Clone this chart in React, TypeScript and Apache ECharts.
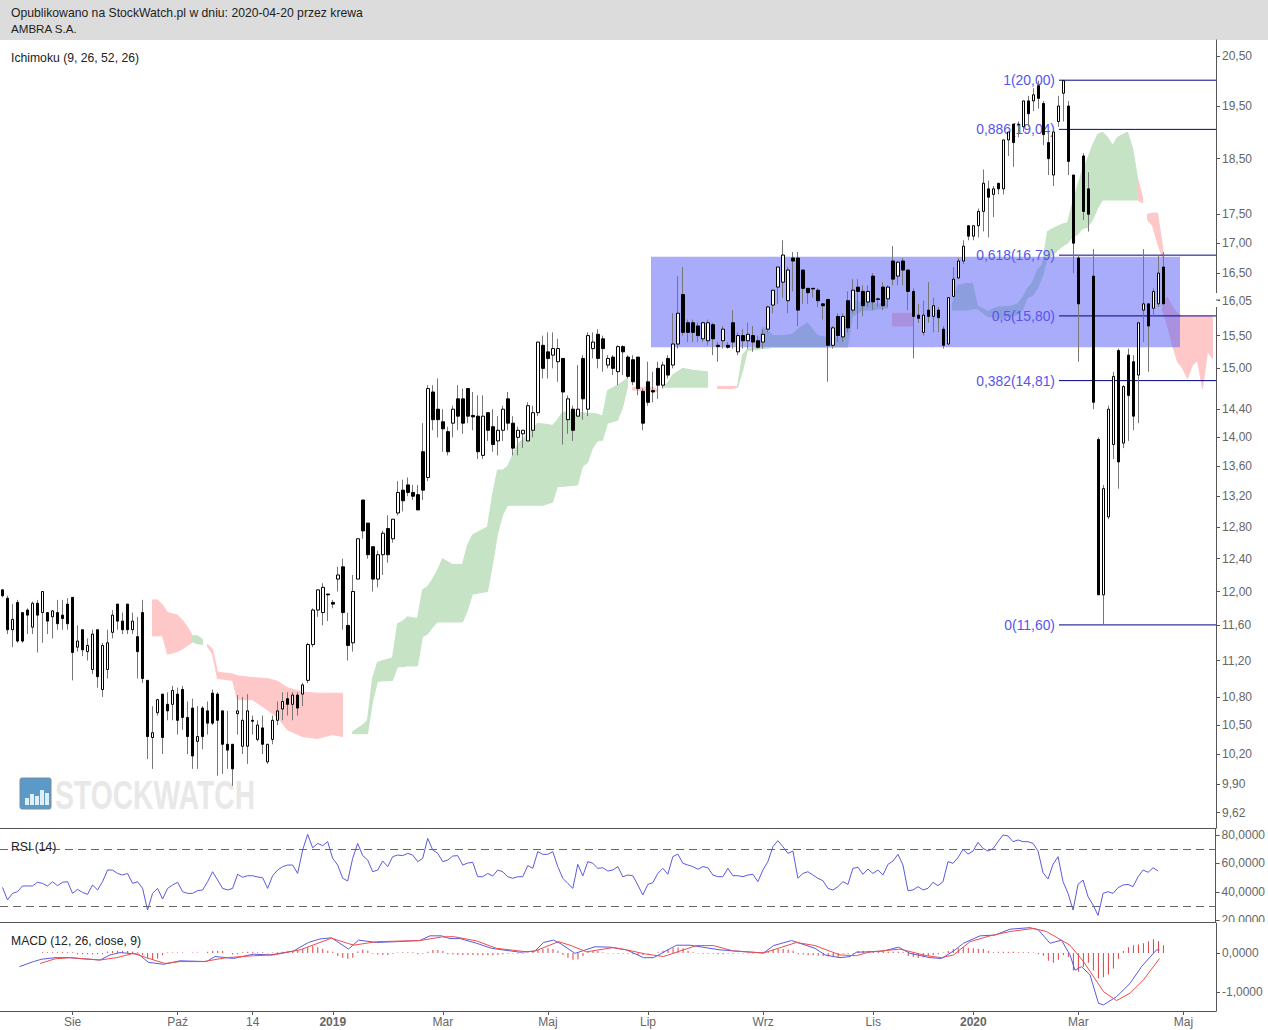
import React, { useEffect, useRef } from "react";
import * as echarts from "echarts";

const FONT = '"Liberation Sans", Arial, sans-serif';
const SLOTS = 243;

// [open, close, low, high]
const candles: number[][] = [
[12.02,11.95,11.93,12.03],[11.92,11.55,11.5,11.95],[11.55,11.67,11.35,11.85],[11.87,11.42,11.4,11.9],[11.75,11.42,11.4,11.75],
[11.78,11.72,11.5,11.8],[11.58,11.86,11.5,11.88],[11.86,11.72,11.29,11.9],[11.75,12.0,11.4,12.0],[11.75,11.65,11.5,11.75],
[11.7,11.77,11.45,11.78],[11.75,11.62,11.55,11.9],[11.72,11.68,11.55,11.9],[11.85,11.62,11.55,11.92],[11.93,11.29,10.98,11.93],
[11.35,11.42,11.3,11.6],[11.55,11.32,11.25,11.55],[11.3,11.37,11.2,11.45],[11.1,11.5,11.05,11.55],[11.55,11.02,10.9,11.55],
[10.88,11.37,10.8,11.4],[11.1,11.4,11.0,11.55],[11.52,11.72,11.45,11.78],[11.85,11.65,11.55,11.85],[11.65,11.55,11.5,11.75],
[11.85,11.55,11.5,11.85],[11.55,11.65,11.5,11.75],[11.47,11.3,11.0,11.7],[11.75,11.0,10.95,11.9],[10.98,10.38,10.15,10.98],
[10.37,10.42,10.05,10.7],[10.63,10.77,10.6,10.78],[10.83,10.37,10.2,10.83],[10.72,10.65,10.55,10.85],[10.72,10.87,10.55,10.92],
[10.83,10.55,10.4,10.9],[10.88,10.58,10.45,10.92],[10.58,10.38,10.2,10.75],[10.68,10.18,10.05,10.78],[10.33,10.38,10.05,10.7],
[10.68,10.38,10.25,10.7],[10.65,10.52,10.4,10.75],[10.84,10.52,10.5,10.88],[10.83,10.55,9.98,10.85],[10.65,10.3,10.0,10.65],
[10.3,10.24,10.05,10.65],[10.3,10.05,9.88,10.3],[10.62,10.65,10.4,10.82],[10.28,10.55,10.2,10.8],[10.28,10.65,10.1,10.83],
[10.55,10.54,10.4,10.6],[10.35,10.5,10.33,10.55],[10.47,10.3,10.2,10.6],[10.12,10.3,10.1,10.3],[10.35,10.55,10.3,10.6],
[10.55,10.65,10.5,10.75],[10.67,10.75,10.55,10.85],[10.78,10.72,10.6,10.85],[10.72,10.82,10.55,10.85],[10.82,10.68,10.6,10.85],
[10.83,10.93,10.7,10.95],[10.98,11.38,10.95,11.4],[11.38,11.78,11.35,11.8],[11.78,12.02,11.7,12.02],[11.75,12.05,11.6,12.1],
[11.97,11.96,11.65,11.97],[11.87,11.85,11.8,11.9],[12.15,12.2,12.0,12.3],[12.3,11.75,11.55,12.4],[11.6,11.37,11.2,11.75],
[11.4,12.0,11.3,12.2],[12.15,12.65,12.15,12.65],[13.15,12.75,12.65,13.15],[12.85,12.45,12.4,12.85],[12.55,12.15,12.0,12.55],
[12.15,12.45,12.05,12.5],[12.45,12.72,12.2,12.75],[12.78,12.45,12.35,12.95],[12.65,12.9,12.6,12.9],[12.98,13.25,12.95,13.4],
[13.28,13.14,13.0,13.42],[13.35,13.25,13.2,13.45],[13.25,13.2,13.15,13.35],[13.22,13.02,13.02,13.35],[13.8,13.28,13.15,14.2],
[13.45,14.7,13.4,14.75],[14.65,14.25,14.1,14.75],[14.4,14.25,14.0,14.85],[14.22,14.12,13.8,14.4],[14.08,13.8,13.75,14.15],
[14.2,14.4,14.0,14.45],[14.55,14.3,14.1,14.75],[14.55,14.2,14.05,14.7],[14.7,14.3,14.2,14.7],[14.31,14.29,14.1,14.65],
[14.3,13.8,13.7,14.6],[13.75,14.3,13.7,14.6],[14.35,14.1,13.95,14.35],[14.15,13.9,13.8,14.4],[13.95,14.1,13.75,14.3],
[14.1,14.4,13.95,14.45],[14.55,14.2,14.1,14.65],[14.2,13.85,13.75,14.3],[14.0,14.1,13.75,14.15],[14.05,14.1,13.85,14.1],
[13.95,14.45,13.95,14.5],[14.1,14.35,14.0,14.45],[14.35,15.4,14.3,15.4],[15.35,15.0,14.85,15.5],[15.25,15.15,14.85,15.55],
[15.2,15.3,15.0,15.55],[15.1,15.3,14.8,15.45],[15.15,14.65,13.9,15.15],[14.25,14.55,14.05,14.6],[14.4,14.1,13.95,14.45],
[14.3,14.4,14.3,15.05],[15.15,14.55,14.25,15.2],[14.4,15.5,14.3,15.55],[15.3,15.4,15.15,15.55],[15.52,15.15,15.0,15.6],
[15.45,15.3,14.95,15.5],[15.05,15.15,15.0,15.2],[15.17,15.0,14.9,15.2],[14.95,15.33,14.75,15.35],[15.33,15.25,14.9,15.35],
[15.17,14.88,14.85,15.2],[15.13,14.8,14.75,15.2],[15.17,14.7,14.6,15.17],[14.66,14.2,14.1,14.7],[14.8,14.5,14.45,15.1],
[14.67,14.65,14.5,14.95],[15.0,14.75,14.55,15.1],[14.75,15.05,14.7,15.1],[15.15,14.9,14.85,15.2],[15.05,15.37,15.0,15.85],
[15.37,15.85,15.3,16.45],[16.15,15.55,15.5,16.6],[15.7,15.55,15.4,15.75],[15.7,15.55,15.4,15.75],[15.65,15.5,15.4,15.7],
[15.45,15.7,15.4,15.72],[15.42,15.7,15.35,15.75],[15.67,15.45,15.2,15.7],[15.35,15.33,15.1,15.4],[15.42,15.6,15.3,15.65],
[15.35,15.32,15.3,15.4],[15.7,15.4,15.3,15.9],[15.25,15.5,15.2,15.55],[15.5,15.42,15.3,15.6],[15.42,15.52,15.3,15.7],
[15.5,15.4,15.25,15.65],[15.42,15.32,15.3,15.5],[15.4,15.52,15.3,15.6],[15.6,15.95,15.55,15.97],[15.98,16.22,15.85,16.22],
[16.27,16.6,16.0,16.6],[16.35,16.8,16.1,17.05],[16.05,16.55,15.85,16.6],[16.75,16.7,16.2,16.85],[16.75,15.9,15.65,16.85],
[16.55,16.25,16.0,16.55],[16.25,16.18,16.0,16.25],[16.25,16.24,16.1,16.25],[16.22,16.05,15.95,16.25],[16.0,15.97,15.75,16.0],
[16.07,15.35,14.8,16.07],[15.35,15.62,15.3,15.65],[15.8,15.5,15.4,15.85],[15.48,15.8,15.4,15.85],[16.05,15.62,15.55,16.2],
[15.9,16.22,15.85,16.4],[16.27,16.2,15.6,16.4],[16.2,15.97,15.8,16.3],[16.03,16.2,15.95,16.3],[16.45,16.03,15.9,16.5],
[16.08,16.07,15.95,16.1],[16.27,15.97,15.9,16.35],[16.08,16.27,15.95,16.3],[16.7,16.4,16.3,16.95],[16.45,16.68,16.3,16.7],
[16.7,16.55,16.3,16.75],[16.55,16.2,15.9,16.55],[16.2,15.8,15.15,16.25],[15.82,15.77,15.7,16.0],[15.55,15.82,15.5,16.05],
[15.9,15.8,15.7,16.35],[15.8,15.97,15.55,16.1],[15.9,15.78,15.55,15.95],[15.6,15.35,15.3,15.65],[15.37,16.1,15.35,16.1],
[16.12,16.4,16.1,16.6],[16.42,16.7,16.4,16.75],[16.7,16.95,16.65,17.05],[17.3,17.12,17.05,17.3],[17.12,17.3,17.05,17.3],
[17.3,17.55,17.1,17.6],[17.55,18.05,17.2,18.3],[17.95,17.8,17.1,18.1],[17.85,17.95,17.45,18.0],[18.05,17.95,17.85,18.05],
[17.95,18.85,17.85,18.85],[18.85,19.0,18.55,19.0],[19.15,18.8,18.35,19.15],[19.15,19.14,18.9,19.2],[19.1,19.6,19.0,19.6],
[19.6,19.35,19.1,19.7],[19.6,19.72,19.4,19.85],[19.9,19.65,19.45,20.0],[19.55,18.95,18.75,19.6],[18.8,18.5,18.2,19.0],
[18.2,19.0,18.0,19.0],[19.2,19.5,19.1,19.7],[19.75,20.0,19.2,20.0],[19.5,18.45,18.2,19.6],[18.2,17.0,16.5,18.2],
[16.75,16.0,15.1,16.8],[18.55,17.55,17.4,18.6],[17.95,17.5,17.2,18.25],[16.45,14.5,14.4,16.9],[13.97,11.96,11.96,14.0],
[11.96,13.3,11.6,13.35],[12.93,14.4,12.9,14.45],[13.9,14.88,13.7,14.95],[15.27,13.66,13.3,15.3],[13.92,14.73,13.85,14.75],
[15.2,14.6,13.95,15.3],[15.1,14.3,14.1,15.2],[14.9,15.7,14.2,15.7],[15.9,16.0,15.4,16.9],[16.0,15.65,14.95,16.0],
[15.93,16.2,15.8,16.25],[16.0,16.5,15.95,16.8],[16.6,16.0,16.0,16.85],
];

// [slot, senkou A, senkou B]: A above B is green, B above A is red; a row with one entry breaks the cloud
const cloud: number[][] = [
[30,11.48,11.9],[31,11.48,11.9],[32,11.48,11.84],[33,11.27,11.75],[35,11.3,11.72],[36,11.33,11.66],[37,11.37,11.58],[38,11.41,11.48],
[38,11.48,11.41],[39,11.48,11.39],[40,11.44,11.38],
[41,11.36,11.38],[42,11.27,11.33],[43,11.0,11.07],[46,10.98,11.05],[47,10.77,11.03],[50,10.77,11.01],[53,10.66,11.0],[55,10.58,10.97],[57,10.45,10.9],[60,10.38,10.85],[63,10.36,10.84],[66,10.4,10.84],[68,10.38,10.84],
[70,10.43,10.41],[72,10.5,10.41],[73,10.55,10.41],[74,11.0,10.75],[75,11.18,10.97],[78,11.23,10.98],[79,11.62,11.13],[80,11.65,11.13],[81,11.7,11.14],[83,11.68,11.14],[84,12.02,11.47],[85,12.06,11.5],[86,12.15,11.58],[87,12.26,11.64],[88,12.4,11.64],[90,12.33,11.64],[92,12.33,11.64],[93,12.57,11.78],[94,12.7,11.97],[97,12.8,12.0],[98,13.22,12.33],[99,13.55,12.71],[100,13.55,12.95],[101,13.6,13.08],[103,13.9,13.08],[105,14.05,13.08],[107,14.2,13.08],[108,14.19,13.08],[110,14.17,13.12],[111,14.25,13.33],[112,14.36,13.33],[115,14.35,13.35],[116,14.35,13.6],[117,14.34,13.65],[118,14.34,13.85],[119,14.33,13.95],[120,14.3,13.96],[121,14.67,14.2],[123,14.75,14.24],[124,14.8,14.42],[125,14.85,14.73],
[126,14.68,14.72],[130,14.66,14.72],[131,14.66,14.68],
[132,14.73,14.72],[133,14.78,14.72],[134,14.9,14.72],[135,14.95,14.72],[136,15.0,14.72],[138,14.97,14.72],[141,14.95,14.72],
[143,14.7,14.73],[146,14.7,14.73],[147,14.72,14.73],
[147,14.73,14.72],[148,15.2,14.96],[149,15.3,15.27],[151,15.32,15.29],[152,15.63,15.3],[153,15.6,15.3],[154,15.5,15.32],[156,15.5,15.32],[158,15.52,15.32],[159,15.6,15.32],[161,15.7,15.32],[163,15.5,15.32],[165,15.47,15.32],[168,15.47,15.32],[169,15.93,15.32],[170,16.05,15.8],[171,16.05,15.85],[172,16.0,15.9],[173,16.05,15.9],[174,16.0,15.9],[176,16.0,15.93],[177,16.05,15.93],
[178,15.65,15.85],[182,15.65,15.85],
[190,16.0,15.9],[191,16.3,15.9],[193,16.33,15.9],[194,16.33,15.92],[195,15.97,15.92],[197,15.88,15.8],[199,15.95,15.77],[200,15.95,15.77],[202,15.97,15.8],[203,16.0,15.83],[204,16.1,15.9],[205,16.25,16.1],[206,16.35,16.13],[207,16.55,16.25],[208,16.65,16.45],[209,17.2,16.75],[210,17.25,16.8],[212,17.33,16.95],[213,17.35,17.0],[214,17.7,17.1],[215,18.0,17.15],[216,18.3,17.25],[217,18.5,17.27],[218,18.75,17.4],[219,18.95,17.6],[220,19.0,17.75],[221,18.9,17.75],[222,18.75,17.75],[223,18.9,17.75],[225,19.0,17.75],[226,18.7,17.75],[227,18.15,17.75],
[227,17.75,18.15],[228,17.7,17.8],[228],[229,17.4,17.5],[230,17.3,17.52],[231,17.0,17.52],[232,16.75,16.95],[232],[232,15.9,16.05],[233,15.65,16.1],[234,15.35,15.95],[235,15.1,15.85],[236,15.0,15.8],[237,14.85,15.8],[238,15.05,15.8],[239,15.12,15.8],[240,14.7,15.8],[241,15.25,15.8],[242,15.15,15.8],
];

const zoneSlots = [130.2, 236];
const zonePrices = [15.32, 16.77];

const fibLabels = ["1(20,00)", "0,886(19,04)", "0,618(16,79)", "0,5(15,80)", "0,382(14,81)", "0(11,60)"];
const fibPrices = [20, 19.04, 16.79, 15.8, 14.81, 11.6];
const fibStartSlot = 211.8;

const priceTicks = [20.5,19.5,18.5,17.5,17,16.5,16.05,15.5,15,14.4,14,13.6,13.2,12.8,12.4,12,11.6,11.2,10.8,10.5,10.2,9.9,9.62];
const rsiTicks = [80, 60, 40, 20];
const macdTicks = [0, -1];
const monthSlots = [14, 35, 50, 66, 88, 109, 129, 152, 174, 194, 215, 236];
const monthLabels = ["Sie", "Paź", "14", "2019", "Mar", "Maj", "Lip", "Wrz", "Lis", "2020", "Mar", "Maj"];

const rsi = [
43.2,34.4,39,40.2,44.2,44.2,44.2,46.8,46,44.2,47.2,44.4,46.8,47.2,39,41.8,39.7,38.3,44.9,41.4,47.2,55.4,55.4,53,51.9,53,46,47.2,42.5,27.3,
39,42.5,35,42.5,44.9,46.8,40.2,39,39,40.9,41.4,47.2,54.2,48.4,42.5,41.4,42.5,52.4,50.3,51.4,51.4,50.5,50,42.5,51.4,55.4,57.8,58.9,58.9,53,
69.5,80.4,71,74.1,72.5,75.3,63.6,58.9,49.6,47.7,63.6,74.1,65.5,62.4,54.2,55.4,61.7,57.8,64.8,65.9,65.5,67.1,65.9,61.3,
63.6,77.6,69.5,67.1,61.3,62.4,65.2,65.5,58.9,60.3,60.8,50.7,50.7,53,51.2,55.4,54.2,50.7,49.6,50.7,50.7,58.5,56.6,68.3,66.4,66.4,68.3,57.8,49.6,46,
42.5,59.4,51.2,61.3,60.1,56.6,57,54.7,55.4,57.8,50.7,51.9,51.4,44.9,37.9,45.3,46.5,53,56.6,52.4,64.8,66.6,60.1,58.9,57.8,55.9,57.8,57,51.9,50.7,
50.7,56.6,51.4,51.4,50.7,51.9,52.4,47.2,55.4,61.3,71.8,76,71.8,67.1,68.7,49.6,53,54.2,51.9,49.6,47.9,42.5,41.4,43.7,
47.2,45.3,56.6,57.3,52.4,56.1,53,55.4,51.9,59.4,61.7,66.4,58.9,40.9,41.4,43.7,41.4,42.5,46.8,44.4,47.2,61.3,60.1,64.1,69.9,66.6,68.7,74.8,70.6,68.7,
70.4,75.3,80,79.3,75.3,76.5,75.3,75.3,74.1,68.7,53.5,49.1,59.4,64.8,47.2,39,27.3,45.3,48.4,36.7,30.8,23.5,39,40.2,39,43,44.9,45.3,43.7,50.7,55.4,53.8,57,54.7,
];
const rsiLevels = [70, 30];

// [slot position, value]
const macdLine: number[][] = [
[3.9,-.35],[6.7,-.22],[8.3,-.16],[11,-.12],[14,-.12],[16.7,-.15],[20,-.18],[22,-.05],[24,.01],[27.7,-.03],[29.7,-.24],[32.7,-.29],[36,-.2],[41.3,-.22],[43,-.09],[46.7,-.14],[50.7,-.03],[54,-.05],[58.7,.05],[61.7,.27],[64,.36],[66.3,.39],[69.7,.1],[71.7,.33],[75.3,.27],[79.3,.29],[84,.32],
[86,.44],[88.3,.44],[90,.37],[92,.37],[95.3,.25],[98.3,.12],[104,.02],[107,.05],[108.7,.27],[110.7,.33],[112,.25],[115,-.01],[119,.16],[122,.15],[125.3,.08],[128.7,-.12],[130.7,-.12],[135.3,.2],[138,.2],[144,.08],[152.7,0],[154.7,.19],[158.3,.32],[163,.12],[165,-.05],[168,-.12],
[170,-.09],[171.3,.02],[173.7,.03],[176.7,.05],[179.7,.15],[182,-.01],[186,-.12],[188.3,-.14],[190.7,.05],[192.7,.25],[196,.44],[199,.46],[202,.61],[206,.65],[207.7,.59],[210,.25],[212.3,.33],[214,-.05],[215,-.44],[216.3,-.35],[218,-.56],[219.7,-1.29],[220.7,-1.33],[223.3,-1.12],[226,-.78],[228.3,-.35],[231.3,.08],[231.9,.08],
];
const macdSignal: number[][] = [
[8,-.27],[11,-.15],[14,-.12],[20,-.18],[23.3,-.12],[26.7,-.01],[29.3,-.12],[33,-.27],[36,-.22],[40.7,-.22],[45.3,-.12],[50.7,-.07],[54.7,-.05],[60,.08],[64,.27],[66.3,.38],[70.7,.2],[73.3,.25],[75.3,.29],[84,.32],
[88.3,.41],[90.7,.42],[95.3,.31],[99.3,.12],[105.3,.03],[107,.05],[111.7,.29],[114,.2],[117.3,.03],[122.7,.14],[125.3,.08],[129.3,-.03],[132.7,-.09],[139.3,.19],[142.7,.19],[146.7,.05],[152.7,0],[159.3,.27],[163,.19],[168,-.05],
[171.3,-.07],[173.7,.02],[180,.1],[185.3,-.07],[188.3,-.12],[190.7,-.05],[194,.29],[198,.44],[202,.55],[206.7,.63],[209.3,.55],[214,.2],[216.7,-.22],[220.7,-.99],[223.3,-1.22],[226,-1.03],[228.7,-.69],[231.9,-.14],
];
const macdHist: (number | null)[] = [
null,null,null,null,null,null,null,null,.02,.02,.02,.02,.02,.02,.02,-.03,-.03,-.03,-.03,-.03,-.03,.04,.05,.06,.06,.05,.04,.02,-.05,-.14,-.18,-.14,-.06,.01,.01,.01,.01,0,.01,.01,0,.03,.05,.06,.05,0,-.04,-.03,.02,.03,.03,.02,.02,-.01,.01,.02,.03,.04,.05,.07,.1,.15,.18,.15,.11,.06,.03,-.08,-.12,-.15,-.12,.04,.09,.06,-.02,-.04,-.05,-.05,-.02,.01,.02,.02,.02,-.03,
-.02,.03,.08,.08,.05,-.03,-.04,-.05,-.05,-.05,-.05,-.06,-.06,-.06,-.06,-.05,-.03,-.02,-.01,-.02,-.02,.01,.04,.08,.1,.12,.1,.06,-.05,-.12,-.17,-.16,-.08,.03,.05,.05,.02,-.01,-.01,-.02,-.02,-.02,-.03,-.05,-.05,-.01,0,.02,.06,.1,.13,.14,.12,.06,.02,-.01,-.02,-.02,-.02,-.03,-.03,-.02,-.02,-.01,-.01,-.01,-.01,.01,.03,.06,.09,.1,.1,.09,.06,-.03,-.04,-.05,-.06,-.07,-.08,-.09,-.1,-.1,
-.02,-.02,-.01,.05,.06,.05,.05,.04,.04,.03,.03,.03,.02,-.08,-.1,-.13,-.11,-.08,-.05,-.03,.01,.05,.1,.12,.15,.13,.12,.11,.1,.05,.02,.03,.03,.03,.03,.02,.02,.02,.01,-.03,-.07,-.2,-.25,-.17,-.06,-.1,-.45,-.48,-.35,-.25,-.45,-.65,-.62,-.55,-.4,-.15,.05,.15,.2,.22,.25,.3,.35,.3,.2,
];

const AXIS = "#555";
const TEXT = "#666";
const ln = (p: number) => Math.log(p);
const slotNames = Array.from({ length: SLOTS }, (_, i) => String(i));
const yTop = ln(20.5) + 0.016;
const yBottom = ln(20.5) - 0.772;

function catAxis(gridIndex: number, visible: boolean) {
  return {
    type: "category", gridIndex, data: slotNames, boundaryGap: true,
    axisLine: { show: true, onZero: false, lineStyle: { color: AXIS, width: 1 } },
    axisTick: { show: visible, alignWithLabel: true, length: 4, interval: (i: number) => monthSlots.includes(i), lineStyle: { color: AXIS } },
    axisLabel: {
      show: visible, interval: (i: number) => monthSlots.includes(i), color: TEXT, fontFamily: FONT, fontSize: 12, margin: 5,
      formatter: (_: string, i: number) => {
        const s = monthLabels[monthSlots.indexOf(i)] ?? "";
        return /^20/.test(s) ? `{b|${s}}` : s;
      },
      rich: { b: { fontWeight: "bold", color: TEXT, fontFamily: FONT, fontSize: 12 } },
    },
    splitLine: { show: false },
  };
}
function slotAxis(gridIndex: number) {
  return { type: "value", gridIndex, min: 0, max: 243.2, show: false, splitLine: { show: false } };
}
function valAxis(gridIndex: number, min: number, max: number, ticks: number[], fmt: (v: number) => string) {
  return {
    type: "value", gridIndex, position: "right", min, max, scale: true,
    axisLine: { show: true, onZero: false, lineStyle: { color: AXIS } },
    axisTick: { show: true, length: 4, customValues: ticks, lineStyle: { color: AXIS } },
    axisLabel: { show: true, customValues: ticks, formatter: fmt, color: TEXT, fontFamily: FONT, fontSize: 12, margin: 6, padding: [2, 0, 0, 0] },
    splitLine: { show: false },
  };
}

function buildOption() {
  const bodies = candles.map(([o, c]) => [ln(o), ln(c), ln(Math.min(o, c)), ln(Math.max(o, c))]);
  const wicks = candles.map(([o, c, l, h]) => [ln(o), ln(c), ln(l), ln(h)]);
  const HEAD = `12.2px ${FONT}`;
  const label = (text: string, y: number) => ({
    type: "text", x: 11, y, z: 20,
    style: { text, font: HEAD, fill: "#222", verticalAlign: "middle" },
  });
  const iconBars = [[25, 798, 4, 7], [30, 794, 4, 11], [35, 796, 4, 9], [40, 790, 4, 15], [45, 793, 4, 12]];
  return {
    animation: false,
    backgroundColor: "#fff",
    grid: [
      { left: 0, width: 1216, top: 40, height: 788 },
      { left: 0, width: 1216, top: 829, height: 93 },
      { left: 0, width: 1216, top: 923, height: 88 },
    ],
    xAxis: [catAxis(0, false), slotAxis(0), catAxis(1, false), catAxis(2, true), slotAxis(2)],
    yAxis: [
      valAxis(0, yBottom, yTop, priceTicks.map(ln), (v) => Math.exp(v).toFixed(2).replace(".", ",")),
      valAxis(1, 18.9, 84.2, rsiTicks, (v) => v.toFixed(4).replace(".", ",")),
      valAxis(2, -1.487, 0.769, macdTicks, (v) => v.toFixed(4).replace(".", ",")),
    ],
    graphic: [
      { type: "rect", z: 0, shape: { x: 0, y: 0, width: 1268, height: 40 }, style: { fill: "#dcdcdc" } },
      { type: "text", x: 11, y: 13, z: 20, style: { text: "Opublikowano na StockWatch.pl w dniu: 2020-04-20 przez krewa", font: HEAD, fill: "#222", verticalAlign: "middle" } },
      { type: "text", x: 11, y: 28, z: 20, style: { text: "AMBRA S.A.", font: `11.6px ${FONT}`, fill: "#222", verticalAlign: "middle" } },
      label("Ichimoku (9, 26, 52, 26)", 58),
      label("RSI (14)", 847),
      label("MACD (12, 26, close, 9)", 941),
      { type: "text", x: 55, y: 794, z: 0, scaleX: 0.69, style: { text: "STOCKWATCH", font: `bold 41px ${FONT}`, fill: "#e8e8e8", verticalAlign: "middle", shadowBlur: 3, shadowColor: "#999", shadowOffsetX: 1, shadowOffsetY: 1 } },
      { type: "rect", z: 0, shape: { x: 20, y: 778, width: 31, height: 31, r: 2 }, style: { fill: "#5b9ac8", stroke: "#7d8c99", lineWidth: 1 } },
      ...iconBars.map(([x, y, width, height]) => ({ type: "rect", z: 0, shape: { x, y, width, height }, style: { fill: "#dfeef7" } })),
      { type: "rect", z: 30, shape: { x: 1217, y: 922, width: 51, height: 10 }, style: { fill: "#fff" } },
      { type: "rect", z: 30, shape: { x: 1215, y: 293, width: 3, height: 14 }, style: { fill: "#fff" } },
      { type: "line", z: 31, shape: { x1: 1216, y1: 300, x2: 1220, y2: 300 }, style: { stroke: AXIS, lineWidth: 1 } },
    ],
    series: [
      {
        type: "custom", name: "cloud", xAxisIndex: 1, yAxisIndex: 0, z: 1, silent: true, clip: true,
        data: cloud.map((_, i) => [i]),
        encode: { x: 0, y: 0 },
        renderItem: (params: any, api: any) => {
          const i = params.dataIndex;
          const a = cloud[i], b = cloud[i + 1];
          if (!b || a.length < 3 || b.length < 3 || a[1] > a[2] !== b[1] > b[2]) return undefined;
          const pt = (s: number, p: number) => api.coord([s + 0.5, ln(p)]);
          const c = a[1] > a[2] ? "#c6e3c6" : "#ffc8c8";
          return {
            type: "polygon",
            shape: { points: [pt(a[0], a[1]), pt(b[0], b[1]), pt(b[0], b[2]), pt(a[0], a[2])] },
            style: { fill: c, stroke: c, lineWidth: 1 },
          };
        },
      },
      {
        type: "custom", name: "zone", xAxisIndex: 1, yAxisIndex: 0, z: 2, silent: true,
        data: [[zoneSlots[0], ln(zonePrices[0])]],
        encode: { x: 0, y: 1 },
        renderItem: (_: any, api: any) => {
          const p0 = api.coord([zoneSlots[0], ln(zonePrices[1])]);
          const p1 = api.coord([zoneSlots[1], ln(zonePrices[0])]);
          return { type: "rect", shape: { x: p0[0], y: p0[1], width: p1[0] - p0[0], height: p1[1] - p0[1] }, style: { fill: "rgba(83,89,247,0.5)" } };
        },
      },
      {
        type: "custom", name: "fibonacci", xAxisIndex: 1, yAxisIndex: 0, z: 3, silent: true,
        data: fibPrices.map((p) => [fibStartSlot, ln(p)]),
        encode: { x: 0, y: 1 },
        renderItem: (params: any, api: any) => {
          const p = fibPrices[params.dataIndex];
          const a = api.coord([fibStartSlot, ln(p)]);
          const b = api.coord([243.2, ln(p)]);
          return {
            type: "group",
            children: [
              { type: "line", shape: { x1: a[0], y1: a[1] - 0.5, x2: b[0], y2: b[1] - 0.5 }, style: { stroke: "#000088", lineWidth: 1 } },
              { type: "text", x: a[0] - 4, y: a[1] - 0.5, style: { text: fibLabels[params.dataIndex], font: `13.9px ${FONT}`, fill: "#5555ee", align: "right", verticalAlign: "middle" } },
            ],
          };
        },
      },
      {
        type: "candlestick", name: "wicks", xAxisIndex: 0, yAxisIndex: 0, z: 4, silent: true, barWidth: 1,
        data: wicks,
        itemStyle: { color: "#777", color0: "#777", borderColor: "#777", borderColor0: "#777", borderWidth: 1 },
      },
      {
        type: "candlestick", name: "AMBRA", xAxisIndex: 0, yAxisIndex: 0, z: 5, silent: true, barWidth: 3,
        data: bodies,
        itemStyle: { color: "#fff", color0: "#000", borderColor: "#000", borderColor0: "#000", borderWidth: 1 },
      },
      {
        type: "line", name: "RSI", xAxisIndex: 2, yAxisIndex: 1, data: rsi, showSymbol: false, silent: true,
        lineStyle: { color: "#5a5ae0", width: 1 },
        markLine: {
          silent: true, symbol: "none", label: { show: false },
          lineStyle: { color: "#666", type: [8, 5], width: 1 },
          data: rsiLevels.map((yAxis) => ({ yAxis })),
        },
      },
      {
        type: "bar", name: "Histogram", xAxisIndex: 3, yAxisIndex: 2, data: macdHist, barWidth: 1, silent: true,
        itemStyle: { color: "#e04040" },
      },
      { type: "line", name: "MACD", xAxisIndex: 4, yAxisIndex: 2, data: macdLine, showSymbol: false, silent: true, lineStyle: { color: "#5a5ae0", width: 1 } },
      { type: "line", name: "Signal", xAxisIndex: 4, yAxisIndex: 2, data: macdSignal, showSymbol: false, silent: true, lineStyle: { color: "#ee4d4d", width: 1 } },
    ],
  };
}

export default function App() {
  const ref = useRef<HTMLDivElement>(null);
  useEffect(() => {
    document.body.style.margin = "0";
    const chart = echarts.init(ref.current!, undefined, { renderer: "svg" });
    chart.setOption(buildOption() as any);
    return () => chart.dispose();
  }, []);
  return <div ref={ref} style={{ position: "fixed", left: 0, top: 0, width: 1268, height: 1030 }} />;
}
